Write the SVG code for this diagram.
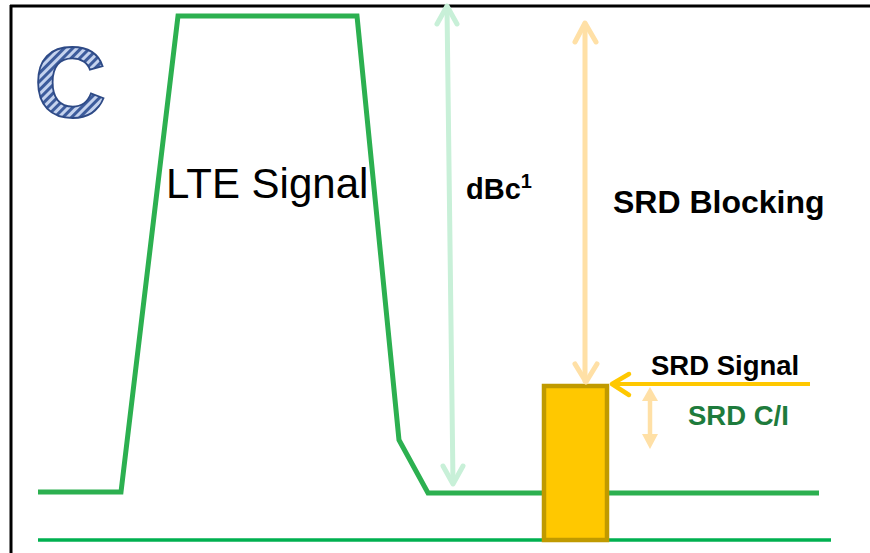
<svg xmlns="http://www.w3.org/2000/svg" width="870" height="553" viewBox="0 0 870 553">
<defs>
<pattern id="hatch" patternUnits="userSpaceOnUse" width="6" height="6" patternTransform="rotate(-45)">
<rect width="6" height="6" fill="#c5d3ee"/>
<rect width="6" height="3" fill="#3d5c9c"/>
</pattern>
<style>
.t{font-family:"Liberation Sans",Arial,sans-serif}
.b{font-weight:bold}
.green{fill:none;stroke:#2cb050;stroke-width:5;stroke-linejoin:miter}
.lg{fill:none;stroke:#c8f0d8;stroke-width:5;stroke-linecap:round;stroke-linejoin:round}
.lo{fill:none;stroke:#ffe0a6;stroke-width:5;stroke-linecap:round;stroke-linejoin:round}
</style>
</defs>
<rect width="870" height="553" fill="#fff"/>
<g id="frame">
<line x1="10" y1="6" x2="870" y2="6" stroke="#000" stroke-width="3"/>
<line x1="11" y1="5" x2="11" y2="553" stroke="#000" stroke-width="3"/>
</g>
<g id="label-c">
<text class="t b" x="34" y="117" font-size="100" fill="url(#hatch)" stroke="#2e4a86" stroke-width="1.8">C</text>
</g>
<g id="lte-signal">
<polyline class="green" points="38,492 121,492 178,16 357,16 399,440 428,493 819,493"/>
<text class="t" x="166" y="198" font-size="42" fill="#000">LTE Signal</text>
</g>
<g id="baseline">
<line x1="38" y1="540" x2="831" y2="540" stroke="#00b050" stroke-width="3.5"/>
</g>
<g id="srd-box">
<rect x="544" y="386" width="63" height="154" fill="#ffc800" stroke="#c09a00" stroke-width="4.5"/>
</g>
<g id="connectors">
<g id="dbc-arrow">
<line class="lg" x1="447" y1="7" x2="453" y2="483"/>
<polyline class="lg" points="437,24 447,6 457,24"/>
<polyline class="lg" points="443,466 453,484 463,466"/>
</g>
<g id="blocking-arrow">
<line class="lo" x1="585" y1="24" x2="585" y2="381"/>
<polyline class="lo" points="575,42 585,23 596,42"/>
<polyline class="lo" points="575,364 586,382 597,364"/>
</g>
<g id="srd-signal-arrow">
<line x1="612" y1="384" x2="810" y2="384" stroke="#ffc800" stroke-width="4"/>
<polyline points="629,374 612,384 629,395" fill="none" stroke="#ffc800" stroke-width="4.5" stroke-linecap="round" stroke-linejoin="round"/>
</g>
<g id="ci-arrow">
<line x1="650" y1="398" x2="650" y2="437" stroke="#ffe0a6" stroke-width="4.5"/>
<polygon points="650,387 658,401 642,401" fill="#ffe0a6"/>
<polygon points="650,449 658,434 642,434" fill="#ffe0a6"/>
</g>
</g>
<g id="labels">
<text class="t b" x="466" y="199" font-size="29" fill="#000">dBc<tspan font-size="20" dy="-11">1</tspan></text>
<text class="t b" x="613" y="213" font-size="32" fill="#000">SRD Blocking</text>
<text class="t b" x="651" y="375" font-size="27.5" fill="#000">SRD Signal</text>
<text class="t b" x="688" y="425" font-size="27.5" fill="#1e7b3c">SRD C/I</text>
</g>
</svg>
